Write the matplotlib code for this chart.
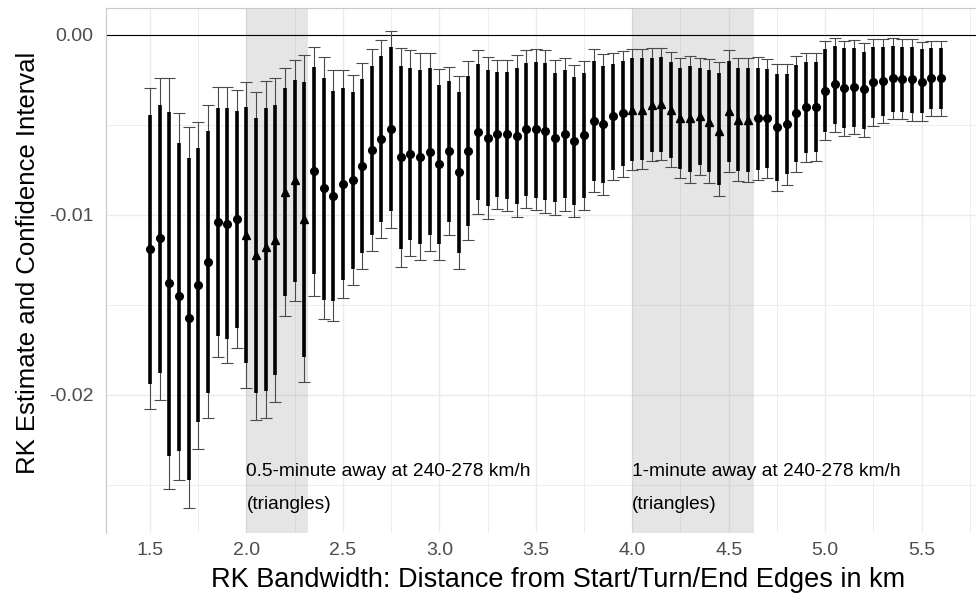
import numpy as np
import matplotlib.pyplot as plt

# RK bandwidth in km
bandwidth = [1.5, 1.55, 1.6, 1.65, 1.7, 1.75, 1.8, 1.85, 1.9, 1.95,
             2.0, 2.05, 2.1, 2.15, 2.2, 2.25, 2.3, 2.35, 2.4, 2.45,
             2.5, 2.55, 2.6, 2.65, 2.7, 2.75, 2.8, 2.85, 2.9, 2.95,
             3.0, 3.05, 3.1, 3.15, 3.2, 3.25, 3.3, 3.35, 3.4, 3.45,
             3.5, 3.55, 3.6, 3.65, 3.7, 3.75, 3.8, 3.85, 3.9, 3.95,
             4.0, 4.05, 4.1, 4.15, 4.2, 4.25, 4.3, 4.35, 4.4, 4.45,
             4.5, 4.55, 4.6, 4.65, 4.7, 4.75, 4.8, 4.85, 4.9, 4.95,
             5.0, 5.05, 5.1, 5.15, 5.2, 5.25, 5.3, 5.35, 5.4, 5.45,
             5.5, 5.55, 5.6]

# values below are in units of 0.001
estimate = [-11.9, -11.3, -13.8, -14.5, -15.7, -13.9, -12.6, -10.4, -10.5, -10.2,
            -11.1, -12.2, -11.8, -11.4, -8.7, -8.06, -10.2, -7.56, -8.52, -8.93,
            -8.28, -8.06, -7.28, -6.39, -5.80, -5.24, -6.80, -6.59, -6.80, -6.48,
            -7.19, -6.44, -7.63, -6.43, -5.41, -5.74, -5.52, -5.52, -5.59, -5.24,
            -5.24, -5.33, -5.70, -5.52, -5.89, -5.56, -4.78, -4.96, -4.50, -4.35,
            -4.17, -4.17, -3.89, -3.83, -4.17, -4.63, -4.63, -4.48, -4.81, -5.33,
            -4.22, -4.72, -4.72, -4.63, -4.63, -5.13, -4.94, -4.35, -3.98, -3.98,
            -3.09, -2.74, -2.96, -2.91, -3.02, -2.63, -2.56, -2.37, -2.44, -2.46,
            -2.59, -2.41, -2.41]

ci90_low = [-19.4, -18.8, -23.4, -23.1, -24.7, -21.5, -19.9, -16.7, -16.9, -16.3,
            -18.2, -19.9, -19.8, -18.9, -14.5, -13.7, -17.9, -13.3, -14.7, -14.8,
            -13.6, -13.0, -12.1, -11.1, -10.4, -9.78, -11.9, -11.4, -11.6, -11.1,
            -11.6, -10.4, -12.1, -10.6, -9.19, -9.52, -9.0, -9.11, -9.41, -8.93,
            -9.04, -9.17, -9.26, -9.07, -9.44, -9.07, -8.09, -8.24, -7.50, -7.26,
            -7.0, -6.94, -6.48, -6.48, -6.81, -7.44, -7.59, -7.22, -7.59, -8.33,
            -7.04, -7.54, -7.59, -7.5, -7.41, -8.09, -7.74, -7.04, -6.54, -6.48,
            -5.41, -4.94, -5.19, -5.09, -5.24, -4.63, -4.5, -4.26, -4.3, -4.35,
            -4.35, -4.13, -4.13]

ci90_high = [-4.44, -3.89, -4.26, -6.02, -6.81, -6.30, -5.33, -4.07, -4.07, -4.22,
             -3.98, -4.63, -4.04, -3.89, -2.96, -2.50, -2.59, -1.76, -2.41, -3.09,
             -2.96, -3.19, -2.44, -1.72, -1.17, -0.69, -1.70, -1.81, -1.94, -1.85,
             -2.78, -2.56, -3.15, -2.26, -1.63, -1.96, -2.07, -2.07, -1.85, -1.57,
             -1.48, -1.57, -2.13, -1.94, -2.35, -2.13, -1.44, -1.72, -1.61, -1.44,
             -1.30, -1.30, -1.26, -1.20, -1.48, -1.85, -1.72, -1.85, -1.94, -2.09,
             -1.43, -1.85, -1.85, -1.81, -1.91, -2.17, -2.15, -1.67, -1.48, -1.48,
             -0.78, -0.59, -0.74, -0.70, -0.93, -0.65, -0.65, -0.59, -0.65, -0.65,
             -0.80, -0.74, -0.74]

ci95_low = [-20.8, -20.3, -25.2, -24.7, -26.3, -23.0, -21.3, -17.9, -18.2, -17.4,
            -19.6, -21.4, -21.3, -20.4, -15.6, -14.8, -19.3, -14.5, -15.8, -15.9,
            -14.6, -13.9, -13.0, -12.0, -11.3, -10.7, -12.9, -12.3, -12.5, -12.0,
            -12.5, -11.1, -13.0, -11.4, -9.93, -10.2, -9.67, -9.78, -10.1, -9.63,
            -9.72, -9.91, -10.0, -9.78, -10.1, -9.74, -8.70, -8.89, -8.06, -7.87,
            -7.5, -7.46, -6.98, -6.94, -7.31, -7.96, -8.2, -7.78, -8.2, -8.93,
            -7.59, -8.11, -8.19, -8.06, -7.96, -8.67, -8.33, -7.59, -7.04, -7.0,
            -5.85, -5.37, -5.61, -5.52, -5.65, -5.04, -4.91, -4.67, -4.69, -4.76,
            -4.76, -4.5, -4.5]

ci95_high = [-2.96, -2.41, -2.37, -4.35, -5.09, -4.81, -3.89, -2.87, -2.87, -3.06,
             -2.63, -3.15, -2.54, -2.41, -1.85, -1.39, -1.11, -0.65, -1.24, -1.94,
             -1.94, -2.22, -1.54, -0.80, -0.26, 0.22, -0.70, -0.85, -1.02, -0.98,
             -1.91, -1.80, -2.28, -1.44, -0.85, -1.22, -1.37, -1.37, -1.09, -0.85,
             -0.78, -0.81, -1.41, -1.26, -1.67, -1.44, -0.80, -1.07, -1.02, -0.87,
             -0.78, -0.78, -0.74, -0.70, -0.96, -1.30, -1.17, -1.30, -1.35, -1.48,
             -0.83, -1.26, -1.26, -1.22, -1.35, -1.59, -1.59, -1.15, -0.98, -0.98,
             -0.31, -0.15, -0.33, -0.28, -0.46, -0.24, -0.22, -0.19, -0.24, -0.24,
             -0.37, -0.33, -0.33]

# shaded windows: distance covered in 0.5 and 1 minute at 240-278 km/h
windows = [(240 * 0.5 / 60, 278 * 0.5 / 60), (240 * 1.0 / 60, 278 * 1.0 / 60)]
window_labels = ["0.5-minute away at 240-278 km/h", "1-minute away at 240-278 km/h"]

x = np.array(bandwidth)
scale = 1e-3
est = np.array(estimate) * scale
l90, h90 = np.array(ci90_low) * scale, np.array(ci90_high) * scale
l95, h95 = np.array(ci95_low) * scale, np.array(ci95_high) * scale

in_window = np.zeros(len(x), dtype=bool)
for a, b in windows:
    in_window |= (x >= a - 1e-9) & (x <= b)

plt.rcParams['font.family'] = ['Liberation Sans', 'DejaVu Sans']

fig = plt.figure(figsize=(9.76, 6.02), dpi=100)
ax = fig.add_axes([0.1083, 0.1138, 0.8917, 0.873])

for a, b in windows:
    ax.axvspan(a, b, color='#808080', alpha=0.2, lw=0, zorder=1)

ax.axhline(0, color='black', lw=0.8, zorder=2)

# 95% whiskers with caps
ax.errorbar(x, est, yerr=[est - l95, h95 - est], fmt='none', ecolor='#4a4a4a',
            elinewidth=0.8, capsize=4, capthick=0.8, zorder=3)
# 90% thick bars
ax.vlines(x, l90, h90, color='black', lw=2.6, zorder=4)
ax.plot(x[~in_window], est[~in_window], 'o', color='black', ms=5.5, zorder=5)
ax.plot(x[in_window], est[in_window], '^', color='black', ms=6, zorder=5)

for (a, b), lab in zip(windows, window_labels):
    ax.text(a, -0.0245, lab, fontsize=13.8, ha='left', va='baseline', zorder=6)
    ax.text(a, -0.02633, "(triangles)", fontsize=13.8, ha='left', va='baseline', zorder=6)

ax.set_xlim(1.2703, 5.782)
ax.set_ylim(-0.027694, 0.0015)

ax.set_xticks([1.5, 2.0, 2.5, 3.0, 3.5, 4.0, 4.5, 5.0, 5.5])
ax.set_xticks([1.75, 2.25, 2.75, 3.25, 3.75, 4.25, 4.75, 5.25, 5.75], minor=True)
ax.set_yticks([0.0, -0.01, -0.02], labels=["0.00", "-0.01", "-0.02"])
ax.set_yticks([-0.005, -0.015, -0.025], minor=True)

ax.grid(which='major', color='#EBEBEB', lw=1.0, zorder=0)
ax.grid(which='minor', color='#EBEBEB', lw=0.6, zorder=0)
ax.set_axisbelow(True)

ax.tick_params(which='both', length=0)
ax.tick_params(axis='both', labelsize=14, labelcolor='#4D4D4D')
ax.tick_params(axis='x', pad=6)
ax.tick_params(axis='y', pad=9)

for side in ['right', 'bottom']:
    ax.spines[side].set_visible(False)
for side in ['left', 'top']:
    ax.spines[side].set_color('#C8C8C8')
    ax.spines[side].set_linewidth(0.8)

fig.text(558.5 / 976, 1 - 580 / 602, "RK Bandwidth: Distance from Start/Turn/End Edges in km",
         fontsize=19.5, ha='center', va='center')
fig.text(28 / 976, 1 - 263 / 602, "RK Estimate and Confidence Interval",
         fontsize=18.5, ha='center', va='center', rotation=90)

fig.savefig('out.png', dpi=100)
